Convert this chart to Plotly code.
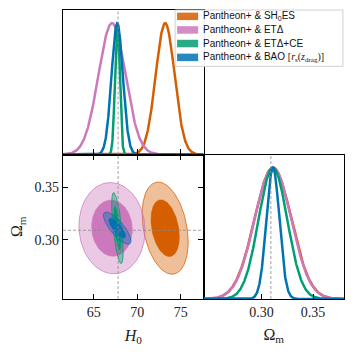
import numpy as np
import plotly.graph_objects as go

# posterior summaries (H0, Omega_m)
labels = [
    'Pantheon+ & SH<sub>0</sub>ES',
    'Pantheon+ & ETΔ',
    'Pantheon+ & ETΔ+CE',
    'Pantheon+ & BAO <span style="font-family:Liberation Serif">[<i>r</i><sub>s</sub>(<i>z</i><sub>drag</sub>)]</span>',
]
colors = [(213, 94, 0), (204, 120, 188), (2, 158, 115), (1, 115, 178)]
h0_mean = [73.2, 67.1, 67.72, 67.70]
h0_sigma = [1.08, 1.55, 0.27, 0.645]
om_mean = [0.311, 0.311, 0.311, 0.311]
om_sigma = [0.018, 0.0178, 0.0139, 0.0063]
rho = [-0.30, -0.05, -0.65, -0.79]

h0_fid = 67.8
om_fid = 0.309

h0_range = [61.48, 77.6]
om_range = [0.2433, 0.3814]
k_levels = [2.448, 1.51]   # 95% and 68% 2D contours


def rgba(c, a):
    return 'rgba(%d,%d,%d,%.2f)' % (c[0], c[1], c[2], a)


fig = go.Figure()

h_grid = np.linspace(h0_range[0], h0_range[1], 600)
o_grid = np.linspace(om_range[0], om_range[1], 600)
t = np.linspace(0, 2 * np.pi, 200)

for i in range(4):
    c = colors[i]
    # 1D H0
    fig.add_trace(go.Scatter(
        x=h_grid, y=np.exp(-0.5 * ((h_grid - h0_mean[i]) / h0_sigma[i]) ** 2),
        mode='lines', line=dict(color=rgba(c, 1), width=2.5),
        xaxis='x', yaxis='y', hoverinfo='skip'
    ))
    # 1D Omega_m
    fig.add_trace(go.Scatter(
        x=o_grid, y=np.exp(-0.5 * ((o_grid - om_mean[i]) / om_sigma[i]) ** 2),
        mode='lines', line=dict(color=rgba(c, 1), width=2.5),
        xaxis='x3', yaxis='y3', hoverinfo='skip'
    ))
    # 2D contours
    for j, k in enumerate(k_levels):
        ex = h0_mean[i] + k * h0_sigma[i] * np.cos(t)
        ey = om_mean[i] + k * om_sigma[i] * (rho[i] * np.cos(t) + np.sqrt(1 - rho[i] ** 2) * np.sin(t))
        if j == 0:
            fill = rgba(c, 0.4)
            line = dict(color=rgba(c, 0.75), width=1)
        else:
            fill = rgba(c, 1)
            line = dict(color=rgba(c, 1), width=0.5)
        fig.add_trace(go.Scatter(
            x=ex, y=ey, mode='lines', fill='toself', fillcolor=fill, line=line,
            xaxis='x2', yaxis='y2', hoverinfo='skip'
        ))

dash = dict(color='#8a8a8a', width=0.8, dash='3px,2px')
fig.add_shape(type='line', xref='x', yref='y domain', x0=h0_fid, x1=h0_fid, y0=0, y1=1, line=dash, layer='above')
fig.add_shape(type='line', xref='x2', yref='y2 domain', x0=h0_fid, x1=h0_fid, y0=0, y1=1, line=dash, layer='above')
fig.add_shape(type='line', xref='x2 domain', yref='y2', x0=0, x1=1, y0=om_fid, y1=om_fid, line=dash, layer='above')
fig.add_shape(type='line', xref='x3', yref='y3 domain', x0=om_fid, x1=om_fid, y0=0, y1=1, line=dash, layer='above')

# hand-made legend (matplotlib style, tighter than plotly's own)
fig.add_shape(type='rect', xref='paper', yref='paper', x0=0.399, x1=0.996, y0=0.805, y1=1.0,
              fillcolor='rgba(255,255,255,0.92)', line=dict(color='#d0d0d0', width=1), layer='above')
row_y = [0.978, 0.931, 0.884, 0.836]
for i in range(4):
    fig.add_shape(type='rect', xref='paper', yref='paper', x0=0.406, x1=0.481,
                  y0=row_y[i] - 0.013, y1=row_y[i] + 0.013,
                  fillcolor=rgba(colors[i], 0.85), line=dict(width=0), layer='above')
    fig.add_annotation(x=0.49, y=row_y[i], xref='paper', yref='paper', text=labels[i],
                       showarrow=False, xanchor='left', yanchor='middle',
                       font=dict(family='Liberation Sans', size=10, color='#111'))

serif = 'Liberation Serif'
base_ax = dict(showline=True, linecolor='black', linewidth=1.2, mirror=True,
               showgrid=False, zeroline=False, ticks='inside', ticklen=5,
               tickcolor='black', tickwidth=1, automargin=False,
               tickfont=dict(family=serif, size=14, color='#222'))

# page body has an 8px margin, so the margins are shifted to compensate
fig.update_layout(
    width=354, height=354,
    margin=dict(l=55, r=18, t=2, b=63),
    paper_bgcolor='white', plot_bgcolor='white',
    showlegend=False,
    xaxis=dict(base_ax, domain=[0, 0.5], anchor='y', range=h0_range,
               tickvals=[65, 70, 75], showticklabels=False),
    yaxis=dict(base_ax, domain=[0.5, 1], anchor='x', range=[0, 1.1],
               ticks='', showticklabels=False),
    xaxis2=dict(base_ax, domain=[0, 0.5], anchor='y2', range=h0_range,
                tickvals=[65, 70, 75], mirror='ticks',
                title=dict(text='<i>H</i><sub>0</sub>', font=dict(family=serif, size=16, color='#222'), standoff=10)),
    yaxis2=dict(base_ax, domain=[0, 0.5], anchor='x2', range=om_range,
                tickvals=[0.30, 0.35], ticktext=['0.30', '0.35'], mirror='ticks',
                title=dict(text='Ω<sub>m</sub>', font=dict(family=serif, size=16, color='#222'), standoff=7)),
    xaxis3=dict(base_ax, domain=[0.5, 1], anchor='y3', range=[0.2436, 0.380],
                tickvals=[0.30, 0.35], ticktext=['0.30', '0.35'],
                title=dict(text='Ω<sub>m</sub>', font=dict(family=serif, size=16, color='#222'), standoff=9)),
    yaxis3=dict(base_ax, domain=[0, 0.5], anchor='x3', range=[0, 1.1],
                ticks='', showticklabels=False),
)

fig.write_html("out.html")
